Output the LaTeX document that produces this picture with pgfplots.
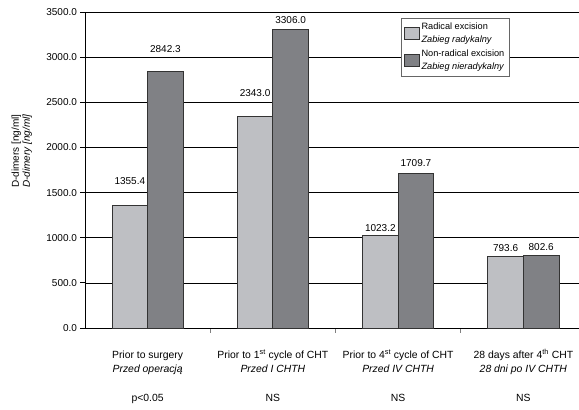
\documentclass[border=0pt]{standalone}
\usepackage{pgfplots}
\pgfplotsset{compat=1.18}
\usepackage{pgfplotstable}
\usepackage{fontspec}
\setmainfont{Liberation Sans}
\definecolor{lightbar}{RGB}{190,191,195}
\definecolor{darkbar}{RGB}{128,129,133}
\pgfplotstableread{
x y dy
0 1355.4 17
1 2343.0 16
2 1023.2 0
3 793.6 1
}\radical
\pgfplotstableread{
x y dy
0 2842.3 15
1 3306.0 2
2 1709.7 3
3 802.6 1
}\nonradical
\begin{document}
\begin{tikzpicture}
\path[use as bounding box] (-85pt,-82pt) rectangle (494pt,328pt);
\begin{axis}[
  at={(0pt,0pt)}, anchor=south west,
  scale only axis, width=501pt, height=316pt,
  xmin=-0.5, xmax=3.5, ymin=0, ymax=3500,
  ybar=0pt, bar width=0.284,
  axis x line*=bottom, axis y line*=left,
  axis line style={black, line width=0.8pt},
  ytick={0,500,...,3500},
  ymajorgrids, grid style={black, line width=0.7pt},
  tick align=outside, major tick length=4.5pt,
  tick style={black, line width=0.8pt},
  xtick={0.5,1.5,2.5}, xticklabels={,,},
  xtick style={draw=gray, line width=1pt},
  extra x ticks={0,1,2,3},
  extra x tick style={major tick length=0pt, xticklabel style={align=center, anchor=north, yshift=-17pt, font=\fontsize{10.4}{12}\selectfont}},
  extra x tick labels={
    {\rule{0pt}{10pt}Prior to surgery\\[1.5pt]\textit{Przed operacją}\\[17pt]p<0.05},
    {\rule{0pt}{10pt}Prior to 1\textsuperscript{st} cycle of CHT\\[1.5pt]\textit{Przed I CHTH}\\[17pt]NS},
    {\rule{0pt}{10pt}Prior to 4\textsuperscript{st} cycle of CHT\\[1.5pt]\textit{Przed IV CHTH}\\[17pt]NS},
    {\rule{0pt}{10pt}28 days after 4\textsuperscript{th} CHT\\[1.5pt]\textit{28 dni po IV CHTH}\\[17pt]NS}},
  scaled y ticks=false,
  /pgf/number format/fixed,
  /pgf/number format/fixed zerofill,
  /pgf/number format/precision=1,
  /pgf/number format/1000 sep={},
  /pgf/number format/assume math mode=true,
  tick label style={font=\fontsize{10}{12}\selectfont},
  ylabel={D-dimers [ng/ml]\\\textit{D-dimery [ng/ml]}},
  ylabel style={at={(axis description cs:-0.126,0.56)}, anchor=center, align=center, font=\fontsize{10}{11}\selectfont},
  nodes near coords,
  every node near coord/.append style={font=\fontsize{10}{12}\selectfont, black},
  legend style={at={(axis description cs:0.631,0.982)}, anchor=north west,
    draw=gray!80!black, line width=0.6pt, fill=white,
    font=\fontsize{9.2}{13.5}\selectfont, cells={align=left},
    inner sep=2.5pt, row sep=1.5pt},
  legend cell align=left,
  legend image code/.code={\draw[#1, line width=0.6pt] (0pt,-6pt) rectangle (15pt,6pt);},
]
\addplot[fill=lightbar, draw=black!80, line width=0.8pt,
  visualization depends on={\thisrow{dy} \as \dy},
  every node near coord/.append style={yshift=\dy pt}]
  table[x=x, y=y] {\radical};
\addlegendentry{Radical excision\\\textit{Zabieg radykalny}}
\addplot[fill=darkbar, draw=black!80, line width=0.8pt,
  visualization depends on={\thisrow{dy} \as \dy},
  every node near coord/.append style={yshift=\dy pt}]
  table[x=x, y=y] {\nonradical};
\addlegendentry{Non-radical excision\\\textit{Zabieg nieradykalny}}
\end{axis}
\end{tikzpicture}
\end{document}
